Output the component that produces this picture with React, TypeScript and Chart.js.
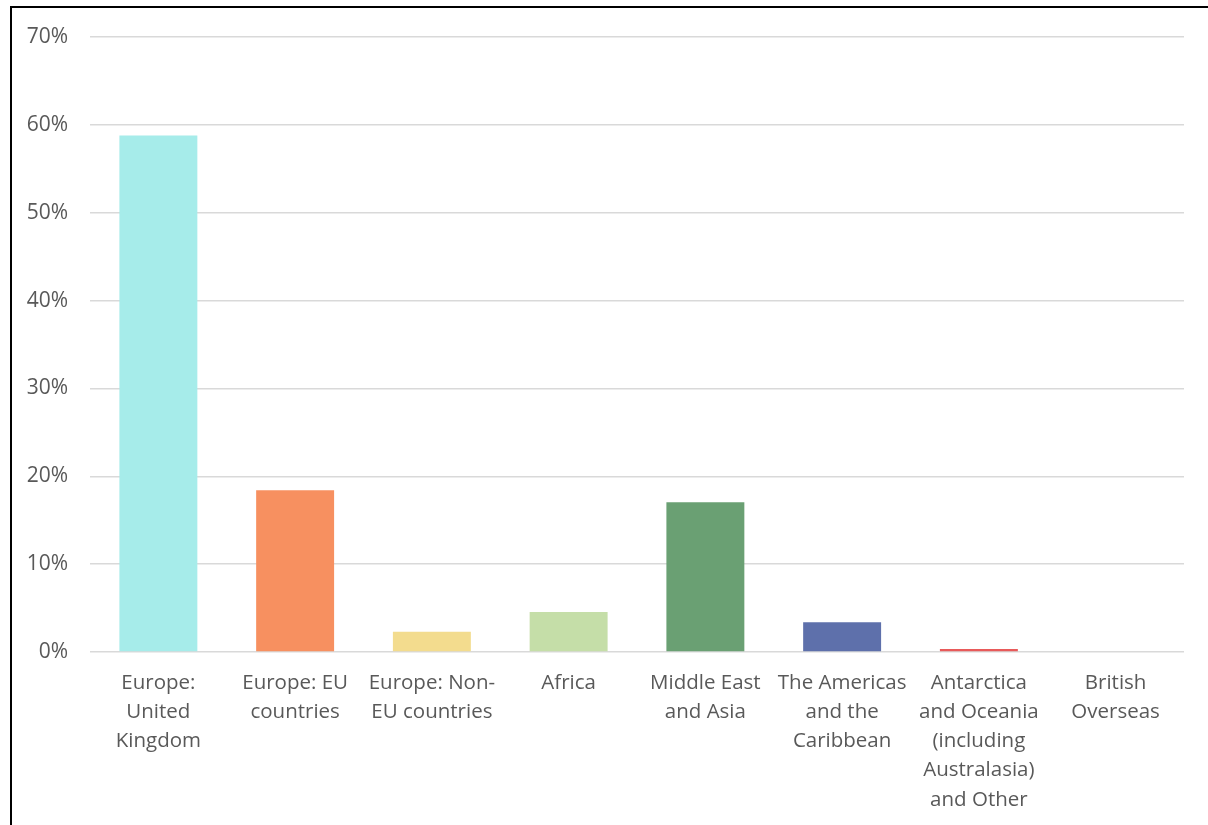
import React, { useEffect, useRef } from "react";
import { Chart, registerables } from "chart.js";

Chart.register(...registerables);

const categories: string[][] = [
  ["Europe:", "United", "Kingdom"],
  ["Europe: EU", "countries"],
  ["Europe: Non-", "EU countries"],
  ["Africa"],
  ["Middle East", "and Asia"],
  ["The Americas", "and the", "Caribbean"],
  ["Antarctica", "and Oceania", "(including", "Australasia)", "and Other"],
  ["British", "Overseas"],
];

const shares: number[] = [58.8, 18.4, 2.3, 4.55, 17.05, 3.4, 0.35, 0];

const barColors: string[] = [
  "#a6ecea",
  "#f79060",
  "#f3dc8e",
  "#c5dea8",
  "#6aa073",
  "#5e70ab",
  "#e85a5a",
  "#9e9e9e",
];

const yTicks: number[] = [0, 10, 20, 30, 40, 50, 60, 70];

export default function App() {
  const ref = useRef<HTMLCanvasElement | null>(null);

  useEffect(() => {
    if (!ref.current) return;
    const chart = new Chart(ref.current, {
      type: "bar",
      data: {
        labels: categories,
        datasets: [
          {
            data: shares,
            backgroundColor: barColors,
            borderWidth: 0,
            barPercentage: 0.57,
            categoryPercentage: 1,
          },
        ],
      },
      options: {
        responsive: false,
        animation: false,
        maintainAspectRatio: false,
        layout: { padding: { top: 37, left: 0, right: 24, bottom: 0 } },
        plugins: {
          legend: { display: false },
          tooltip: { enabled: false },
          title: { display: false },
        },
        scales: {
          x: {
            grid: { display: false, drawTicks: false },
            border: { display: false },
            ticks: {
              color: "#595959",
              font: { family: "Open Sans", size: 20.5, lineHeight: 1.43 },
              padding: 16,
              maxRotation: 0,
              autoSkip: false,
            },
            afterFit: (scale: any) => {
              scale.height = 825 - 652;
            },
          },
          y: {
            min: 0,
            max: 70,
            afterBuildTicks: (scale: any) => {
              scale.ticks = yTicks.map((v) => ({ value: v }));
            },
            grid: {
              color: "#d9d9d9",
              lineWidth: 1.5,
              drawTicks: false,
            },
            border: { display: false },
            ticks: {
              color: "#595959",
              font: { family: "Open Sans", size: 21 },
              padding: 22,
              callback: (v: any) => v + "%",
            },
            afterFit: (scale: any) => {
              scale.width = 90;
            },
          },
        },
      },
    });
    return () => chart.destroy();
  }, []);

  return (
    <div
      style={{
        position: "fixed",
        left: 0,
        top: 0,
        width: 1208,
        height: 825,
        background: "#fff",
        overflow: "hidden",
      }}
    >
      <div
        style={{
          position: "absolute",
          left: 10,
          top: 6,
          width: 1300,
          height: 900,
          borderLeft: "2px solid #000",
          borderTop: "2px solid #000",
        }}
      />
      <canvas
        ref={ref}
        width={1208}
        height={825}
        style={{ position: "absolute", left: 0, top: 0 }}
      />
    </div>
  );
}
